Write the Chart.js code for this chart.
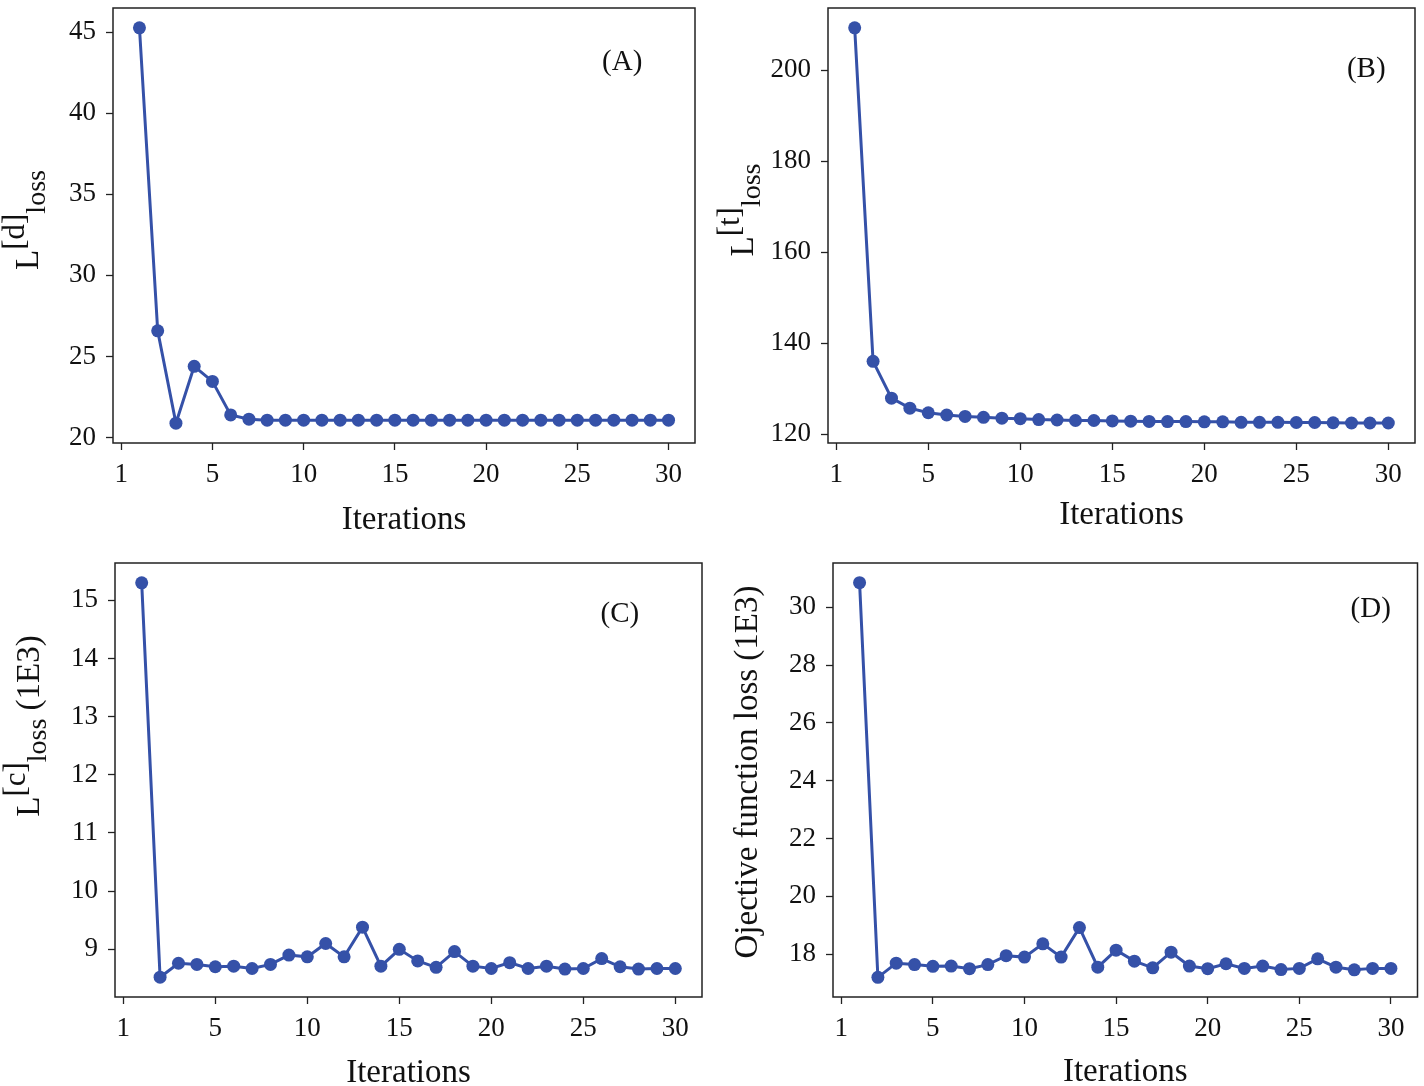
<!DOCTYPE html>
<html>
<head>
<meta charset="utf-8">
<script src="https://cdn.jsdelivr.net/npm/chart.js@4.4.1/dist/chart.umd.min.js"></script>
<style>
  html, body { margin: 0; padding: 0; background: #fff; }
  #grid { position: relative; width: 1424px; height: 1086px; overflow: hidden; }
  .cell { position: absolute; width: 712px; height: 543px; }
</style>
</head>
<body>
<div id="grid">
  <div class="cell" style="left:0;top:0"><canvas id="cA"></canvas></div>
  <div class="cell" style="left:712px;top:0"><canvas id="cB"></canvas></div>
  <div class="cell" style="left:0;top:543px"><canvas id="cC"></canvas></div>
  <div class="cell" style="left:712px;top:543px"><canvas id="cD"></canvas></div>
</div>
<script>
// data
const iterations = [1,2,3,4,5,6,7,8,9,10,11,12,13,14,15,16,17,18,19,20,21,22,23,24,25,26,27,28,29,30];

const lossD = [45.27, 26.58, 20.88, 24.39, 23.46, 21.39, 21.13, 21.07, 21.07, 21.07,
               21.07, 21.07, 21.07, 21.07, 21.07, 21.07, 21.07, 21.07, 21.07, 21.07,
               21.07, 21.07, 21.07, 21.07, 21.07, 21.07, 21.07, 21.07, 21.07, 21.07];

const lossT = [209.3, 136.0, 127.9, 125.7, 124.7, 124.2, 123.9, 123.7, 123.5, 123.4,
               123.2, 123.1, 123.0, 123.0, 122.9, 122.85, 122.8, 122.75, 122.75, 122.7,
               122.7, 122.6, 122.6, 122.6, 122.55, 122.55, 122.5, 122.45, 122.45, 122.45];

const lossC = [15.30, 8.52, 8.76, 8.74, 8.70, 8.71, 8.67, 8.74, 8.90, 8.87,
               9.10, 8.87, 9.38, 8.71, 9.00, 8.80, 8.69, 8.96, 8.71, 8.67,
               8.77, 8.67, 8.71, 8.66, 8.67, 8.84, 8.70, 8.66, 8.67, 8.67];

const lossObj = [30.85, 17.20, 17.69, 17.64, 17.58, 17.59, 17.50, 17.64, 17.95, 17.90,
                 18.36, 17.90, 18.92, 17.55, 18.14, 17.76, 17.53, 18.07, 17.59, 17.50,
                 17.67, 17.51, 17.59, 17.47, 17.51, 17.84, 17.55, 17.46, 17.51, 17.51];

const xTickValues = [0, 5, 10, 15, 20, 25, 30];
const xTickLabels = ['1', '5', '10', '15', '20', '25', '30'];

const yTicksD = [20, 25, 30, 35, 40, 45];
const yTicksT = [120, 140, 160, 180, 200];
const yTicksC = [9, 10, 11, 12, 13, 14, 15];
const yTicksObj = [18, 20, 22, 24, 26, 28, 30];

const LINE = '#3551a8';
const INK = '#111';
const SERIF = '"Liberation Serif", "Times New Roman", serif';

// frame, panel tag, axis titles (y title needs super/subscripts)
const decor = {
  id: 'decor',
  afterDraw(chart, args, o) {
    const ctx = chart.ctx, a = chart.chartArea;
    ctx.save();
    ctx.strokeStyle = '#222';
    ctx.lineWidth = 1.5;
    ctx.strokeRect(a.left, a.top, a.right - a.left, a.bottom - a.top);

    ctx.fillStyle = INK;
    ctx.textAlign = 'center';
    ctx.textBaseline = 'middle';
    ctx.font = '29px ' + SERIF;
    ctx.fillText(o.tag, a.left + o.tagX * (a.right - a.left), a.top + o.tagY * (a.bottom - a.top));

    ctx.font = '33px ' + SERIF;
    ctx.fillText('Iterations', (a.left + a.right) / 2, a.bottom + o.xTitleDy);

    // rotated y title
    ctx.translate(o.yX, o.yY);
    ctx.rotate(-Math.PI / 2);
    ctx.textAlign = 'left';
    ctx.textBaseline = 'alphabetic';
    let total = 0;
    o.yParts.forEach(p => {
      ctx.font = p.size + 'px ' + SERIF;
      p.w = ctx.measureText(p.t).width;
      total += p.w;
    });
    let x = -total / 2;
    o.yParts.forEach(p => {
      ctx.font = p.size + 'px ' + SERIF;
      ctx.fillText(p.t, x, p.dy);
      x += p.w;
    });
    ctx.restore();
  }
};

function makeChart(id, values, yTicks, yMin, yMax, box, deco) {
  return new Chart(document.getElementById(id), {
    type: 'line',
    data: {
      datasets: [{
        data: iterations.map((it, i) => ({ x: it, y: values[i] })),
        borderColor: LINE,
        backgroundColor: LINE,
        borderWidth: 3,
        pointRadius: 6.5,
        pointBorderWidth: 0,
        pointBackgroundColor: LINE,
        tension: 0
      }]
    },
    options: {
      responsive: true,
      maintainAspectRatio: false,
      animation: false,
      layout: { padding: { left: 0, top: box.top, right: box.right, bottom: 0 } },
      plugins: {
        legend: { display: false },
        tooltip: { enabled: false },
        decor: deco
      },
      scales: {
        x: {
          type: 'linear',
          min: -0.45,
          max: 31.45,
          border: { display: false },
          grid: { drawOnChartArea: false, drawTicks: true, tickLength: 7, tickWidth: 1.3, tickColor: '#222' },
          afterBuildTicks: s => { s.ticks = xTickValues.map(v => ({ value: v })); },
          afterFit: s => { s.height = box.xh; s.paddingLeft = 0; s.paddingRight = 0; },
          ticks: {
            color: INK,
            padding: 9,
            maxRotation: 0,
            font: { family: SERIF, size: 27 },
            callback: (v) => xTickLabels[xTickValues.indexOf(v)]
          }
        },
        y: {
          min: yMin,
          max: yMax,
          border: { display: false },
          grid: { drawOnChartArea: false, drawTicks: true, tickLength: 7, tickWidth: 1.3, tickColor: '#222' },
          afterBuildTicks: s => { s.ticks = yTicks.map(v => ({ value: v })); },
          afterFit: s => { s.width = box.yw; s.paddingTop = 0; s.paddingBottom = 0; },
          ticks: {
            color: INK,
            padding: 10,
            font: { family: SERIF, size: 27 },
            callback: v => String(v)
          }
        }
      }
    },
    plugins: [decor]
  });
}

makeChart('cA', lossD, yTicksD, 19.66, 46.49,
  { top: 8, right: 17, yw: 113, xh: 100 },
  { tag: '(A)', tagX: 0.875, tagY: 0.124, xTitleDy: 77, yX: 38, yY: 220,
    yParts: [{ t: 'L', size: 33, dy: 0 }, { t: '[d]', size: 31, dy: -14 }, { t: 'loss', size: 28, dy: 7 }] });

makeChart('cB', lossT, yTicksT, 118.05, 213.65,
  { top: 8, right: 9, yw: 116, xh: 100 },
  { tag: '(B)', tagX: 0.917, tagY: 0.142, xTitleDy: 72, yX: 41, yY: 210,
    yParts: [{ t: 'L', size: 33, dy: 0 }, { t: '[t]', size: 31, dy: -14 }, { t: 'loss', size: 28, dy: 7 }] });

makeChart('cC', lossC, yTicksC, 8.18, 15.64,
  { top: 20, right: 10, yw: 115, xh: 89 },
  { tag: '(C)', tagX: 0.86, tagY: 0.118, xTitleDy: 76, yX: 39, yY: 183,
    yParts: [{ t: 'L', size: 33, dy: 0 }, { t: '[c]', size: 31, dy: -14 }, { t: 'loss', size: 28, dy: 7 }, { t: ' (1E3)', size: 33, dy: 0 }] });

makeChart('cD', lossObj, yTicksObj, 16.52, 31.53,
  { top: 20, right: 6, yw: 121, xh: 89 },
  { tag: '(D)', tagX: 0.92, tagY: 0.108, xTitleDy: 75, yX: 45, yY: 229,
    yParts: [{ t: 'Ojective function loss (1E3)', size: 33, dy: 0 }] });
</script>
</body>
</html>
